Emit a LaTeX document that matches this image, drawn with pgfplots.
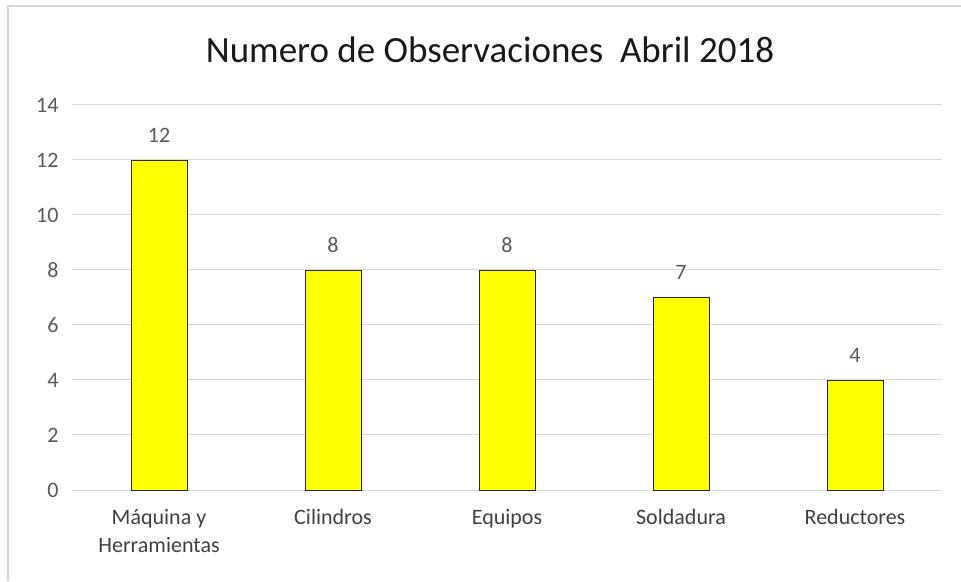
\documentclass[border=0pt]{standalone}
\usepackage{pgfplots}
\pgfplotsset{compat=1.18}
\usepackage{fontspec}
\setmainfont{Carlito}
\definecolor{gridc}{HTML}{D9D9D9}
\definecolor{txt}{HTML}{595959}
\definecolor{bary}{HTML}{FFFF00}
\begin{document}
\begin{tikzpicture}[x=1pt,y=1pt]
\useasboundingbox (0,0) rectangle (961,581);
\draw[color=gridc, line width=1.5pt] (8,0) -- (8,575) -- (961,575);
\node[font=\fontsize{37}{44}\selectfont, color=black!90] at (490,531) {Numero de Observaciones\ \ Abril 2018};
\begin{axis}[
  at={(72pt,91pt)}, anchor=south west,
  scale only axis, width=870pt, height=385pt,
  xmin=-0.5, xmax=4.5, ymin=0, ymax=14,
  ytick={0,2,...,14},
  xtick={0,1,2,3,4},
  xticklabels={{Máquina y\\Herramientas},Cilindros,Equipos,Soldadura,Reductores},
  xticklabel style={align=center, font=\fontsize{22}{28}\selectfont, color=black!75, yshift=-16pt},
  yticklabel style={font=\fontsize{22}{26}\selectfont, color=txt, xshift=-10pt},
  /pgf/number format/assume math mode=true,
  axis line style={draw=none},
  major tick length=0pt,
  ymajorgrids, grid style={color=gridc, line width=1pt},
  ybar, bar width=56pt,
  nodes near coords,
  nodes near coords style={font=\fontsize{22}{26}\selectfont, color=txt, yshift=14pt},
  clip=false,
]
\addplot[fill=bary, draw=black!85, line width=0.8pt] coordinates {(0,12) (1,8) (2,8) (3,7) (4,4)};
\end{axis}
\end{tikzpicture}
\end{document}
